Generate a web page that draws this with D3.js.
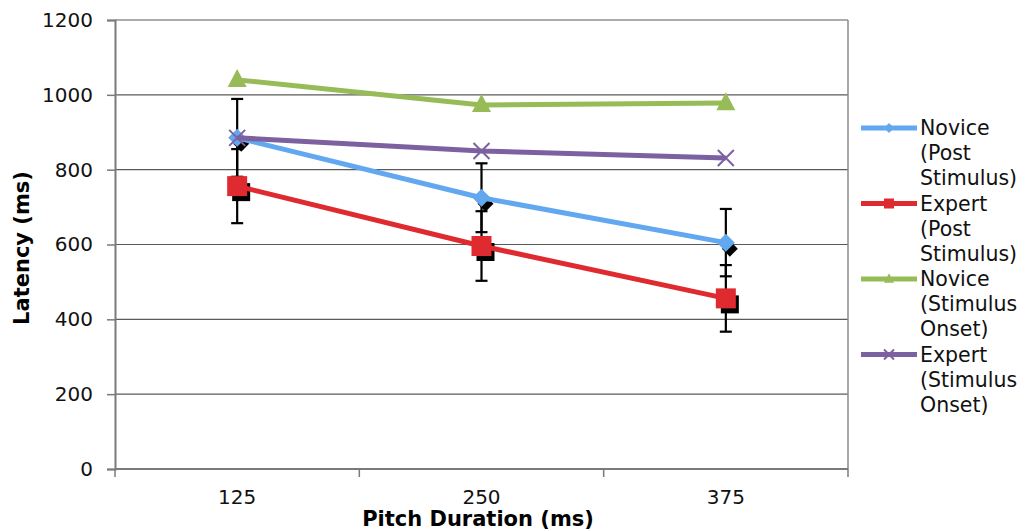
<!DOCTYPE html>
<html>
<head>
<meta charset="utf-8">
<script src="https://cdn.jsdelivr.net/npm/d3@7"></script>
<style>
  body { margin: 0; background: #fff; }
  text { font-family: "DejaVu Sans", Verdana, sans-serif; }
</style>
</head>
<body>
<div id="chart-area"></div>
<script>
// data
var categories = ["125", "250", "375"];
var novicePost = [885, 725, 605];
var expertPost = [756, 596, 456];
var noviceOnset = [1040, 973, 978];
var expertOnset = [885, 850, 831];
var noviceErr = [104, 92, 90];
var expertErr = [99, 93, 89];
var yTicks = [0, 200, 400, 600, 800, 1000, 1200];

var series = [
    {name: ["Novice", "(Post", "Stimulus)"], values: novicePost, err: noviceErr, color: "#62a8f0", shape: "diamond"},
    {name: ["Expert", "(Post", "Stimulus)"], values: expertPost, err: expertErr, color: "#df2a2f", shape: "square"},
    {name: ["Novice", "(Stimulus", "Onset)"], values: noviceOnset, err: null, color: "#97bb57", shape: "triangle"},
    {name: ["Expert", "(Stimulus", "Onset)"], values: expertOnset, err: null, color: "#7d60a0", shape: "cross"}
];

var W = 1026, H = 531;
var pLeft = 115, pRight = 848, pTop = 20, pBottom = 469;

var svg = d3.select("#chart-area").append("svg")
    .attr("width", W)
    .attr("height", H);

var x = d3.scaleBand().domain(categories).range([pLeft, pRight]).padding(0);
var y = d3.scaleLinear().domain([0, 1200]).range([pBottom, pTop]);
var cx = function(c) { return x(c) + x.bandwidth() / 2; };

// gridlines
svg.selectAll(".grid")
    .data(yTicks.filter(function(d) { return d > 0; }))
    .enter()
    .append("line")
    .attr("x1", pLeft).attr("x2", pRight)
    .attr("y1", function(d) { return y(d); })
    .attr("y2", function(d) { return y(d); })
    .attr("stroke", "#5a5a5a")
    .attr("stroke-width", 1.2);

// right border of plot
svg.append("line")
    .attr("x1", pRight).attr("x2", pRight)
    .attr("y1", y(1200)).attr("y2", y(0))
    .attr("stroke", "#8a8a8a").attr("stroke-width", 1.5);

// y axis
var yAxis = d3.axisLeft(y).tickValues(yTicks).tickFormat(d3.format("d")).tickSize(8).tickPadding(14);
var gy = svg.append("g").attr("transform", "translate(" + pLeft + ",0)").call(yAxis);
gy.select(".domain").attr("stroke", "#7a7a7a").attr("stroke-width", 2);
gy.selectAll(".tick line").attr("stroke", "#7a7a7a").attr("stroke-width", 1.5);
gy.selectAll("text")
    .attr("font-size", "20px")
    .attr("fill", "#111")
    .attr("font-family", "DejaVu Sans, Verdana, sans-serif");

// x axis
var gx = svg.append("g").attr("transform", "translate(0," + pBottom + ")");
gx.append("line")
    .attr("x1", pLeft).attr("x2", pRight)
    .attr("stroke", "#7a7a7a").attr("stroke-width", 2);
var bounds = categories.map(function(c) { return x(c); }).concat([x(categories[categories.length - 1]) + x.bandwidth()]);
gx.selectAll(".xt")
    .data(bounds)
    .enter()
    .append("line")
    .attr("x1", function(d) { return d; })
    .attr("x2", function(d) { return d; })
    .attr("y1", 0).attr("y2", 8)
    .attr("stroke", "#7a7a7a").attr("stroke-width", 1.5);
gx.selectAll(".xl")
    .data(categories)
    .enter()
    .append("text")
    .attr("x", function(d) { return cx(d); })
    .attr("y", 35)
    .attr("text-anchor", "middle")
    .attr("font-size", "20px")
    .attr("fill", "#111")
    .text(function(d) { return d; });

// axis titles
svg.append("text")
    .attr("x", 478).attr("y", 526)
    .attr("text-anchor", "middle")
    .attr("font-size", "21px")
    .attr("font-weight", "bold")
    .text("Pitch Duration (ms)");

svg.append("text")
    .attr("transform", "translate(29,248) rotate(-90)")
    .attr("text-anchor", "middle")
    .attr("font-size", "21px")
    .attr("font-weight", "bold")
    .text("Latency (ms)");

// marker drawing
function marker(g, shape, color, size) {
    var s = size;
    if (shape == "diamond") {
        g.append("path").attr("d", "M0," + (-s) + "L" + s + ",0L0," + s + "L" + (-s) + ",0Z").attr("fill", color);
    } else if (shape == "square") {
        g.append("rect").attr("x", -s).attr("y", -s).attr("width", 2 * s).attr("height", 2 * s).attr("fill", color);
    } else if (shape == "triangle") {
        g.append("path").attr("d", "M0," + (-s * 1.15) + "L" + s + "," + (s * 0.75) + "L" + (-s) + "," + (s * 0.75) + "Z").attr("fill", color);
    } else {
        g.append("path").attr("d", "M" + (-s) + "," + (-s) + "L" + s + "," + s + "M" + (-s) + "," + s + "L" + s + "," + (-s))
            .attr("stroke", color).attr("stroke-width", 2).attr("fill", "none");
    }
}

// error bars
series.filter(function(s) { return s.err; }).forEach(function(s) {
    var g = svg.append("g");
    categories.forEach(function(c, i) {
        var hi = y(s.values[i] + s.err[i]), lo = y(s.values[i] - s.err[i]);
        g.append("line").attr("x1", cx(c)).attr("x2", cx(c)).attr("y1", hi).attr("y2", lo)
            .attr("stroke", "#000").attr("stroke-width", 2.2);
        [hi, lo].forEach(function(v) {
            g.append("line").attr("x1", cx(c) - 6).attr("x2", cx(c) + 6).attr("y1", v).attr("y2", v)
                .attr("stroke", "#000").attr("stroke-width", 2.2);
        });
    });
});

// black shadow markers behind the post-stimulus series
series.filter(function(s) { return s.err; }).forEach(function(s) {
    categories.forEach(function(c, i) {
        var g = svg.append("g").attr("transform", "translate(" + (cx(c) + 4) + "," + (y(s.values[i]) + 6) + ")");
        marker(g, s.shape, "#000", s.shape == "square" ? 9 : 8);
    });
});

// lines and markers
var line = d3.line()
    .x(function(d, i) { return cx(categories[i]); })
    .y(function(d) { return y(d); });

series.forEach(function(s) {
    svg.append("path")
        .datum(s.values)
        .attr("d", line)
        .attr("fill", "none")
        .attr("stroke", s.color)
        .attr("stroke-width", 5);
    s.values.forEach(function(v, i) {
        var g = svg.append("g").attr("transform", "translate(" + cx(categories[i]) + "," + y(v) + ")");
        var size = s.shape == "square" ? 10 : (s.shape == "cross" ? 8 : (s.shape == "triangle" ? 9.5 : 9));
        marker(g, s.shape, s.color, size);
    });
});

// legend
var legend = svg.append("g");
series.forEach(function(s, k) {
    var ly = 128 + k * 75.5;
    legend.append("line")
        .attr("x1", 861).attr("x2", 917)
        .attr("y1", ly).attr("y2", ly)
        .attr("stroke", s.color).attr("stroke-width", 5);
    var g = legend.append("g").attr("transform", "translate(889," + ly + ")");
    marker(g, s.shape, s.color, 5);
    s.name.forEach(function(t, j) {
        legend.append("text")
            .attr("x", 920)
            .attr("y", ly + 7 + j * 25.2)
            .attr("font-size", "20.5px")
            .attr("fill", "#111")
            .text(t);
    });
});
</script>
</body>
</html>
